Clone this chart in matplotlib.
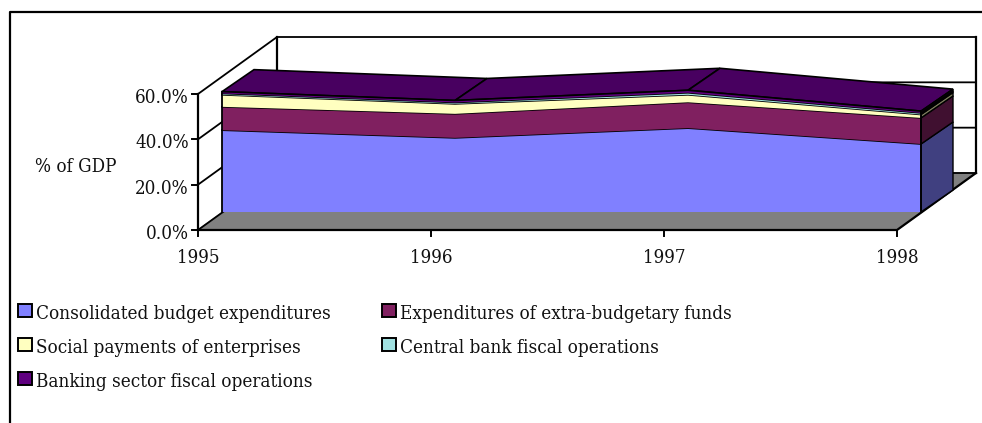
import matplotlib
matplotlib.use('Agg')
import matplotlib.pyplot as plt
from matplotlib.patches import Rectangle

years = ["1995", "1996", "1997", "1998"]
y_ticks = [0, 20, 40, 60]
y_tick_labels = ["0.0%", "20.0%", "40.0%", "60.0%"]

consolidated = [36.1, 32.7, 37.0, 30.0]
extra_budget = [10.3, 10.6, 11.4, 11.5]
social = [5.3, 4.4, 3.3, 1.5]
central_bank = [0.6, 0.6, 0.9, 0.7]
banking = [0.8, 0.9, 1.1, 0.8]

series = [consolidated, extra_budget, social, central_bank, banking]
names = ["Consolidated budget expenditures", "Expenditures of extra-budgetary funds",
         "Social payments of enterprises", "Central bank fiscal operations",
         "Banking sector fiscal operations"]
front_colors = ["#8080FF", "#802060", "#FFFFC0", "#A0E0E0", "#600080"]
side_colors = ["#404080", "#401030", "#808060", "#507070", "#300040"]
top_colors = ["#6060C0", "#601848", "#C0C090", "#78A8A8", "#480060"]

W, H = 982, 423
TXT = dict(family="DejaVu Serif", stretch="condensed", fontsize=13.5, color="#111111")

fig = plt.figure(figsize=(W / 100, H / 100), dpi=100)

# whole-picture axes in pixels, for the frame and the legend
bg = fig.add_axes([0, 0, 1, 1])
bg.set_xlim(0, W)
bg.set_ylim(H, 0)
bg.axis("off")
bg.plot([10, 10, W], [H, 12, 12], color="black", lw=1.6)

# front floor edge: x from 198 to 897 px, y from 230 to 94 px
ax = fig.add_axes([198 / W, 1 - 230 / H, (897 - 198) / W, 136 / H])
ax.set_xlim(0, 3)
ax.set_ylim(0, 60)
ax.axis("off")

# depth offsets in data units
unit_x = 3 / (897 - 198)
unit_y = 60 / 136
GAP = (24 * unit_x, 18 * unit_y)     # wall to area
DEPTH = (32 * unit_x, 22 * unit_y)   # thickness of the area
BACK = (79 * unit_x, 57 * unit_y)    # front to back wall


def line(xs, ys, lw=1.5, z=2):
    ax.plot(xs, ys, color="black", lw=lw, clip_on=False, zorder=z, solid_joinstyle="miter")


# floor and walls
ax.fill([0, 3, 3 + BACK[0], BACK[0]], [0, 0, BACK[1], BACK[1]], color="#808080", clip_on=False, zorder=1)
for t in y_ticks:
    line([0, BACK[0], 3 + BACK[0]], [t, t + BACK[1], t + BACK[1]], lw=1.3)
line([0, 0], [0, 60], lw=1.6)
line([BACK[0], BACK[0]], [BACK[1], 60 + BACK[1]], lw=1.6)
line([3 + BACK[0], 3 + BACK[0]], [BACK[1], 60 + BACK[1]], lw=1.6)
line([0, 3, 3 + BACK[0]], [0, 0, BACK[1]], lw=1.6)

# stacked 3D area
xs = [i + GAP[0] for i in range(4)]
bottom = [GAP[1]] * 4
z = 3
for vals, fc, sc, tc in zip(series, front_colors, side_colors, top_colors):
    top = [b + v for b, v in zip(bottom, vals)]
    # top surface
    for i in range(3):
        ax.fill([xs[i], xs[i + 1], xs[i + 1] + DEPTH[0], xs[i] + DEPTH[0]],
                [top[i], top[i + 1], top[i + 1] + DEPTH[1], top[i] + DEPTH[1]],
                facecolor=tc, edgecolor="black", lw=1.2, clip_on=False, zorder=z)
    # front face
    ax.fill(xs + xs[::-1], top + bottom[::-1], color=fc, lw=0, clip_on=False, zorder=z + 1)
    line(xs, top, lw=1.2, z=z + 1)
    # right side
    ax.fill([xs[3], xs[3] + DEPTH[0], xs[3] + DEPTH[0], xs[3]],
            [bottom[3], bottom[3] + DEPTH[1], top[3] + DEPTH[1], top[3]],
            facecolor=sc, edgecolor="black", lw=1.0, clip_on=False, zorder=z + 1)
    bottom = top
    z += 2

# left and right edges of the front face
line([xs[0], xs[0]], [GAP[1], bottom[0]], lw=1.3, z=z)
line([xs[3], xs[3]], [GAP[1], bottom[3]], lw=1.3, z=z)

# ticks and tick labels
for i, lab in enumerate(years):
    line([i, i], [0, -6 * unit_y], lw=1.4)
    ax.annotate(lab, (i, 0), xytext=(0, -33), textcoords="offset pixels",
                ha="center", va="baseline", annotation_clip=False, **TXT)
for t, lab in zip(y_ticks, y_tick_labels):
    line([0, -6 * unit_x], [t, t], lw=1.4)
    ax.annotate(lab, (0, t), xytext=(-9, -9), textcoords="offset pixels",
                ha="right", va="baseline", annotation_clip=False, **TXT)

bg.text(35, 172, "% of GDP", ha="left", va="baseline", **TXT)

# legend, drawn by hand because it wraps unevenly
legend_pos = [(18, 311), (382, 311), (18, 345), (382, 345), (18, 379)]
for (lx, ly), name, fc in zip(legend_pos, names, front_colors):
    bg.add_patch(Rectangle((lx, ly - 6.5), 14, 13, facecolor=fc, edgecolor="black", lw=1.4))
    bg.text(lx + 18, ly + 8, name, ha="left", va="baseline", **TXT)

fig.savefig("out.png", dpi=100, facecolor="white")
